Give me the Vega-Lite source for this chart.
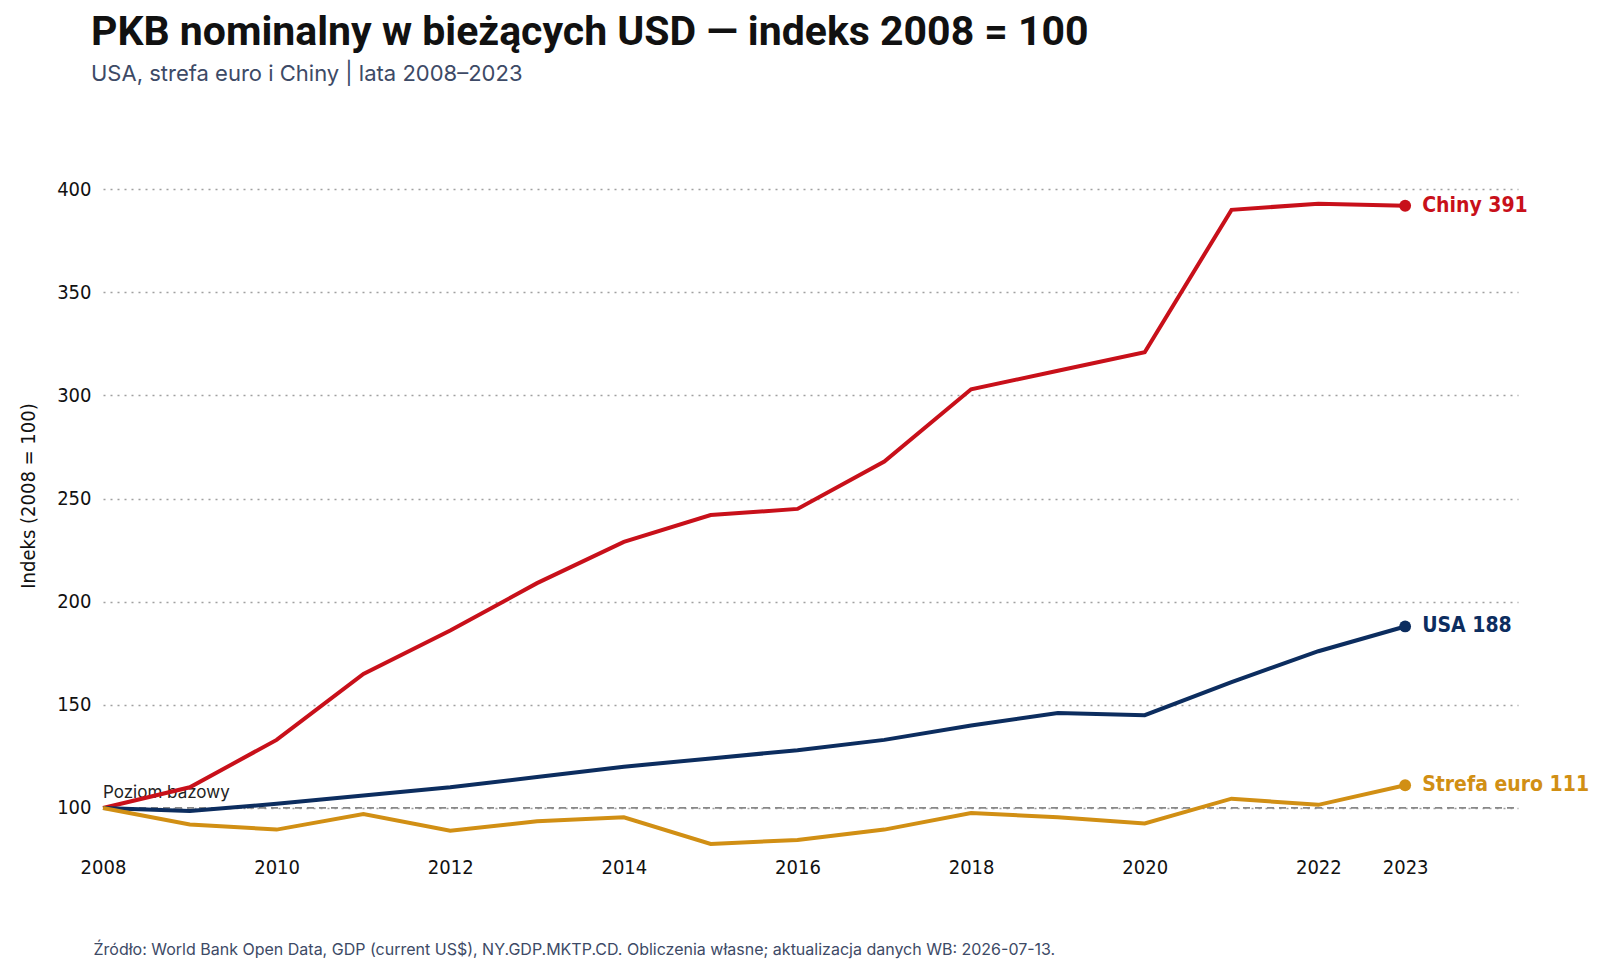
{
  "$schema": "https://vega.github.io/schema/vega-lite/v6.json",
  "width": 1620,
  "height": 971,
  "autosize": {"type": "fit", "contains": "padding"},
  "padding": {"left": 18, "top": 12, "right": 40, "bottom": 14},
  "background": "white",
  "title": {
    "text": "PKB nominalny w bieżących USD — indeks 2008 = 100",
    "subtitle": "USA, strefa euro i Chiny | lata 2008–2023",
    "anchor": "start",
    "frame": "group",
    "offset": 62,
    "font": "Roboto",
    "fontSize": 41,
    "fontWeight": "bold",
    "color": "#111111",
    "subtitleFont": "Inter",
    "subtitleFontSize": 22,
    "subtitleColor": "#3d4a66",
    "subtitlePadding": 10,
    "dx": -12
  },
  "datasets": {
    "series": [
      {"year": 2008, "s": "Chiny", "v": 100}, {"year": 2009, "s": "Chiny", "v": 110},
      {"year": 2010, "s": "Chiny", "v": 133}, {"year": 2011, "s": "Chiny", "v": 165},
      {"year": 2012, "s": "Chiny", "v": 186}, {"year": 2013, "s": "Chiny", "v": 209},
      {"year": 2014, "s": "Chiny", "v": 229}, {"year": 2015, "s": "Chiny", "v": 242},
      {"year": 2016, "s": "Chiny", "v": 245}, {"year": 2017, "s": "Chiny", "v": 268},
      {"year": 2018, "s": "Chiny", "v": 303}, {"year": 2019, "s": "Chiny", "v": 312},
      {"year": 2020, "s": "Chiny", "v": 321}, {"year": 2021, "s": "Chiny", "v": 390},
      {"year": 2022, "s": "Chiny", "v": 393}, {"year": 2023, "s": "Chiny", "v": 392},
      {"year": 2008, "s": "USA", "v": 100}, {"year": 2009, "s": "USA", "v": 98.5},
      {"year": 2010, "s": "USA", "v": 102}, {"year": 2011, "s": "USA", "v": 106},
      {"year": 2012, "s": "USA", "v": 110}, {"year": 2013, "s": "USA", "v": 115},
      {"year": 2014, "s": "USA", "v": 120}, {"year": 2015, "s": "USA", "v": 124},
      {"year": 2016, "s": "USA", "v": 128}, {"year": 2017, "s": "USA", "v": 133},
      {"year": 2018, "s": "USA", "v": 140}, {"year": 2019, "s": "USA", "v": 146},
      {"year": 2020, "s": "USA", "v": 145}, {"year": 2021, "s": "USA", "v": 161},
      {"year": 2022, "s": "USA", "v": 176}, {"year": 2023, "s": "USA", "v": 188},
      {"year": 2008, "s": "Strefa euro", "v": 100}, {"year": 2009, "s": "Strefa euro", "v": 92},
      {"year": 2010, "s": "Strefa euro", "v": 89.5}, {"year": 2011, "s": "Strefa euro", "v": 97},
      {"year": 2012, "s": "Strefa euro", "v": 89}, {"year": 2013, "s": "Strefa euro", "v": 93.5},
      {"year": 2014, "s": "Strefa euro", "v": 95.5}, {"year": 2015, "s": "Strefa euro", "v": 82.5},
      {"year": 2016, "s": "Strefa euro", "v": 84.5}, {"year": 2017, "s": "Strefa euro", "v": 89.5},
      {"year": 2018, "s": "Strefa euro", "v": 97.5}, {"year": 2019, "s": "Strefa euro", "v": 95.5},
      {"year": 2020, "s": "Strefa euro", "v": 92.5}, {"year": 2021, "s": "Strefa euro", "v": 104.5},
      {"year": 2022, "s": "Strefa euro", "v": 101.5}, {"year": 2023, "s": "Strefa euro", "v": 111}
    ],
    "ends": [
      {"year": 2023, "s": "Chiny", "v": 392, "label": "Chiny  391"},
      {"year": 2023, "s": "USA", "v": 188, "label": "USA  188"},
      {"year": 2023, "s": "Strefa euro", "v": 111, "label": "Strefa euro  111"}
    ],
    "base": [{"x": 2008, "x2": 2024.3, "v": 100, "label": "Poziom bazowy"}]
  },
  "encoding": {
    "x": {
      "field": "year", "type": "quantitative",
      "scale": {"domain": [2008, 2024.3], "nice": false, "zero": false},
      "axis": {
        "values": [2008, 2010, 2012, 2014, 2016, 2018, 2020, 2022, 2023],
        "format": "d", "grid": false, "domain": false, "ticks": false,
        "labelFont": "DejaVu Sans Condensed", "labelFontSize": 20, "labelColor": "#111111",
        "labelPadding": 14, "labelFlush": false,
        "title": "Źródło: World Bank Open Data, GDP (current US$), NY.GDP.MKTP.CD. Obliczenia własne; aktualizacja danych WB: 2026-07-13.",
        "titleFont": "Inter", "titleFontSize": 16, "titleFontWeight": "normal", "titleColor": "#3d4a66",
        "titleAnchor": "start", "titleAlign": "left", "titleX": -10, "titleY": 98
      }
    },
    "y": {
      "field": "v", "type": "quantitative",
      "scale": {"domain": [83, 420], "nice": false, "zero": false},
      "axis": {
        "values": [100, 150, 200, 250, 300, 350, 400],
        "grid": true, "gridDash": [2, 5], "gridColor": "#a0a0a0", "gridWidth": 1.5,
        "domain": false, "ticks": false,
        "labelFont": "DejaVu Sans Condensed", "labelFontSize": 20, "labelColor": "#111111",
        "labelPadding": 12,
        "title": "Indeks (2008 = 100)", "titleFont": "DejaVu Sans Condensed", "titleFontSize": 20,
        "titleFontWeight": "normal", "titleColor": "#111111", "titlePadding": 18
      }
    },
    "color": {
      "field": "s", "type": "nominal", "legend": null,
      "scale": {"domain": ["Chiny", "USA", "Strefa euro"], "range": ["#c8101a", "#0c2d5f", "#d18f14"]}
    }
  },
  "layer": [
    {
      "data": {"name": "base"},
      "mark": {"type": "rule", "strokeDash": [7, 5], "color": "#888888", "strokeWidth": 1.8},
      "encoding": {"x": {"field": "x", "type": "quantitative"}, "x2": {"field": "x2"}, "y": {"field": "v", "type": "quantitative"}, "color": null}
    },
    {
      "data": {"name": "base"},
      "mark": {"type": "text", "align": "left", "baseline": "bottom", "dy": -6, "fontSize": 17, "font": "Inter", "color": "#222222"},
      "encoding": {"x": {"field": "x", "type": "quantitative"}, "y": {"field": "v", "type": "quantitative"}, "text": {"field": "label"}, "color": null}
    },
    {
      "data": {"name": "series"},
      "mark": {"type": "line", "strokeWidth": 4}
    },
    {
      "data": {"name": "ends"},
      "mark": {"type": "point", "filled": true, "size": 140, "opacity": 1}
    },
    {
      "data": {"name": "ends"},
      "mark": {"type": "text", "align": "left", "dx": 17, "fontSize": 21, "fontWeight": "bold", "font": "DejaVu Sans Condensed"},
      "encoding": {"text": {"field": "label"}}
    }
  ],
  "config": {"view": {"stroke": null}}
}
